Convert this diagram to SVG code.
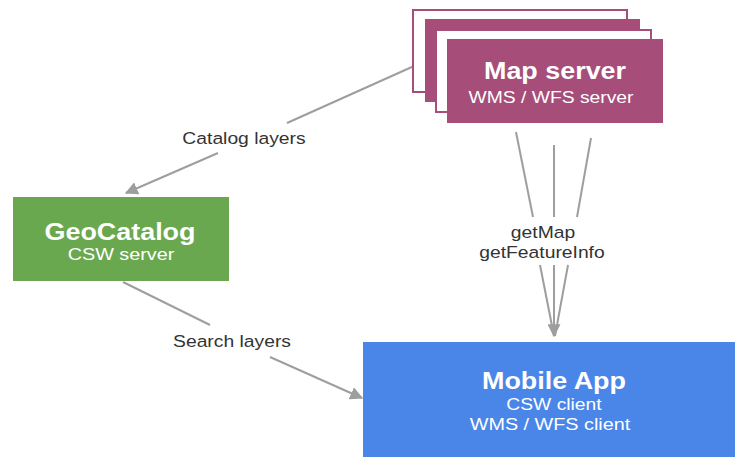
<svg xmlns="http://www.w3.org/2000/svg" width="735" height="457" viewBox="0 0 735 457">
<style>
.t{font-family:"Liberation Sans",Arial,sans-serif;text-anchor:middle}
.title{font-size:23px;font-weight:bold;fill:#fff}
.sub{font-size:16.5px;fill:#fff}
.lbl{font-size:16.5px;fill:#333}
.conn{stroke:#9e9e9e;stroke-width:2;fill:none}
.ms{fill:#a64d79}
.msb{fill:#fff;stroke:#a64d79;stroke-width:2}
</style>
<defs>
<marker id="ah" viewBox="0 0 10 10" refX="9" refY="5" markerWidth="6.5" markerHeight="6.5" orient="auto" markerUnits="strokeWidth">
<path d="M0,0 L10,5 L0,10 z" fill="#9e9e9e"/>
</marker>
</defs>
<rect width="735" height="457" fill="#fff"/>
<g id="connectors">
<path class="conn" d="M423,62 L287,123"/>
<path class="conn" d="M218,153 L126,193" marker-end="url(#ah)"/>
<path class="conn" d="M123,282 L210,325"/>
<path class="conn" d="M270,357 L362,398" marker-end="url(#ah)"/>
<path class="conn" d="M516,132 L533,217"/>
<path class="conn" d="M554,145 L554,217"/>
<path class="conn" d="M591,138 L577,217"/>
<path class="conn" d="M540,265 L554,336"/>
<path class="conn" d="M568,265 L555,336"/>
<path class="conn" d="M554,265 L554,336" marker-end="url(#ah)"/>
</g>
<g id="map-server">
<rect class="msb" x="413" y="10" width="214" height="82"/>
<rect class="ms" x="425" y="19" width="215" height="83"/>
<rect class="msb" x="436" y="30" width="215" height="82"/>
<rect class="ms" x="447" y="39" width="216" height="84"/>
<text class="t title" transform="translate(555,79) scale(1.17,1)">Map server</text>
<text class="t sub" transform="translate(551,103) scale(1.17,1)">WMS / WFS server</text>
</g>
<g id="geocatalog">
<rect x="13" y="197" width="216" height="84" fill="#6aa84f"/>
<text class="t title" transform="translate(120,240) scale(1.17,1)">GeoCatalog</text>
<text class="t sub" transform="translate(121,260) scale(1.2,1)">CSW server</text>
</g>
<g id="mobile-app">
<rect x="363" y="342" width="372" height="115" fill="#4a86e8"/>
<text class="t title" transform="translate(554,389) scale(1.17,1)">Mobile App</text>
<text class="t sub" transform="translate(554,410) scale(1.17,1)">CSW client</text>
<text class="t sub" transform="translate(550,430) scale(1.2,1)">WMS / WFS client</text>
</g>
<g id="labels">
<text class="t lbl" transform="translate(244,144) scale(1.17,1)">Catalog layers</text>
<text class="t lbl" transform="translate(232,347) scale(1.17,1)">Search layers</text>
<text class="t lbl" transform="translate(543,238) scale(1.17,1)">getMap</text>
<text class="t lbl" transform="translate(542,258) scale(1.17,1)">getFeatureInfo</text>
</g>
</svg>
